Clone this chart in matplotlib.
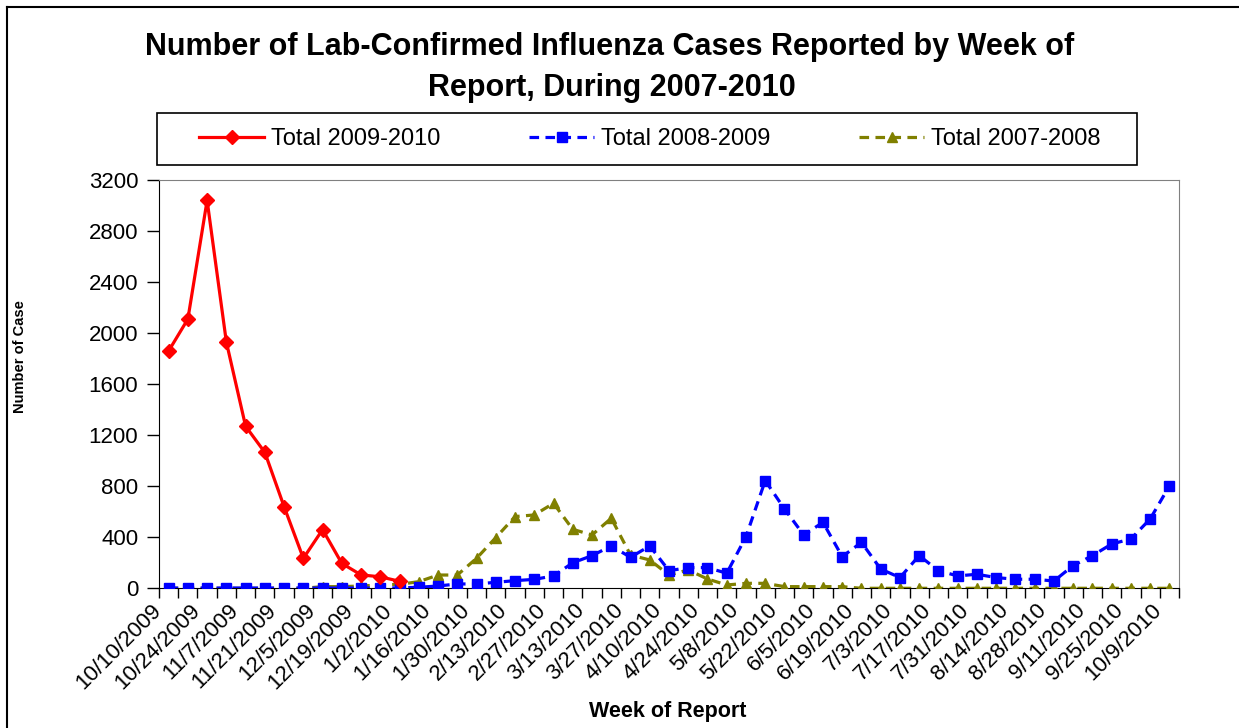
import numpy as np
import pandas as pd
import matplotlib
matplotlib.use('Agg')
import matplotlib.pyplot as plt
import matplotlib.transforms as mtransforms
from matplotlib.lines import Line2D
from matplotlib.patches import Rectangle

plt.rcParams['font.family'] = ['Liberation Sans', 'DejaVu Sans']

# weekly report dates (53 weeks), every 2nd one labelled
weeks = pd.date_range('2009-10-10', periods=53, freq='7D')
week_labels = [f'{d.month}/{d.day}/{d.year}' for d in weeks]

# values
total_0910 = [1860, 2110, 3040, 1930, 1270, 1065, 640, 235, 460, 195, 105, 90, 55]
total_0809 = [2, 2, 2, 2, 2, 2, 2, 2, 2, 2, 2, 2, 3, 8, 18, 34, 34, 47, 60, 70,
              97, 200, 256, 332, 243, 332, 138, 162, 162, 118, 405, 844, 622, 418, 517, 248,
              360, 151, 84, 256, 138, 97, 110, 84, 71, 71, 57, 178, 256, 347, 387, 543, 802]
total_0708 = [0, 0, 0, 0, 0, 0, 0, 0, 13, 13, 18, 26, 31, 52, 104, 104, 235, 397, 562, 575,
              666, 462, 418, 549, 261, 222, 104, 144, 73, 26, 39, 39, 13, 13, 13, 13,
              0, 0, 0, 0, 0, 0, 0, 0, 0, 0, 0, 0, 0, 0, 0, 0, 0]

W, H = 1239, 728
fig = plt.figure(figsize=(W/100, H/100), dpi=100)
ax = fig.add_axes([159/W, 1-588.3/H, 1020/W, 408.3/H])

x = np.arange(len(week_labels))
l1, = ax.plot(x[:len(total_0910)], total_0910, '-', color='#ff0000', lw=2.3,
              marker='D', ms=7.5, mec='#ff0000', mfc='#ff0000', zorder=5, label='Total 2009-2010')
l2, = ax.plot(x, total_0809, '--', color='#0000ff', lw=2.3, dashes=(3, 2),
              marker='s', ms=6.5, mec='#0000ff', mfc='#0000ff', zorder=4, label='Total 2008-2009')
l3, = ax.plot(x, total_0708, '--', color='#808000', lw=2.3, dashes=(3, 2),
              marker='^', ms=7.5, mec='#808000', mfc='#808000', zorder=3, label='Total 2007-2008')

ax.set_ylim(0, 3200)
ax.set_xlim(-0.5, len(x)-0.5)
ax.set_yticks(np.arange(0, 3201, 400))
ax.tick_params(axis='y', labelsize=16, length=9, width=1, pad=6)
# ticks between categories, labels at every 2nd category
ax.set_xticks(np.arange(-0.5, len(x), 1))
ax.set_xticklabels([])
ax.tick_params(axis='x', which='major', length=7, width=1)
ax.set_xticks(x[::2], minor=True)
ax.set_xticklabels(week_labels[::2], minor=True, rotation=45, ha='right',
                   va='top', rotation_mode='anchor', fontsize=16)
ax.tick_params(axis='x', which='minor', length=0, pad=4)
shift = mtransforms.ScaledTranslation(-18/100, -6/100, fig.dpi_scale_trans)
for t in ax.get_xticklabels(minor=True):
    t.set_transform(t.get_transform() + shift)

for s in ['top', 'right']:
    ax.spines[s].set_color('#808080')
for s in ['left', 'bottom']:
    ax.spines[s].set_color('black')

fig.text(610/W, 1-47/H, 'Number of Lab-Confirmed Influenza Cases Reported by Week of',
         ha='center', va='center', fontsize=22, fontweight='bold')
fig.text(612/W, 1-88/H, 'Report, During 2007-2010',
         ha='center', va='center', fontsize=22, fontweight='bold')
fig.text(668/W, 1-712/H, 'Week of Report', ha='center', va='center', fontsize=15.5, fontweight='bold')
fig.text(20/W, 1-357/H, 'Number of Case', ha='center', va='center', rotation=90,
         fontsize=10.5, fontweight='bold')

# legend box drawn separately, entries centred inside it
fig.add_artist(Rectangle((157/W, 1-165/H), 980/W, 52/H, transform=fig.transFigure,
                         fill=False, ec='black', lw=1.2))
fig.legend(handles=[l1, l2, l3], loc='center', ncol=3,
           bbox_to_anchor=(650/W, 1-139/H), fontsize=17, numpoints=1,
           handlelength=2.75, handletextpad=0.3, columnspacing=3.75,
           frameon=False, borderaxespad=0, borderpad=0)

# outer chart border (only top and left edges visible in the picture)
fig.add_artist(Line2D([7/W, 1], [1-7/H, 1-7/H], color='black', lw=1.5))
fig.add_artist(Line2D([7/W, 7/W], [0, 1-7/H], color='black', lw=1.5))

fig.savefig('out.png', dpi=100)
